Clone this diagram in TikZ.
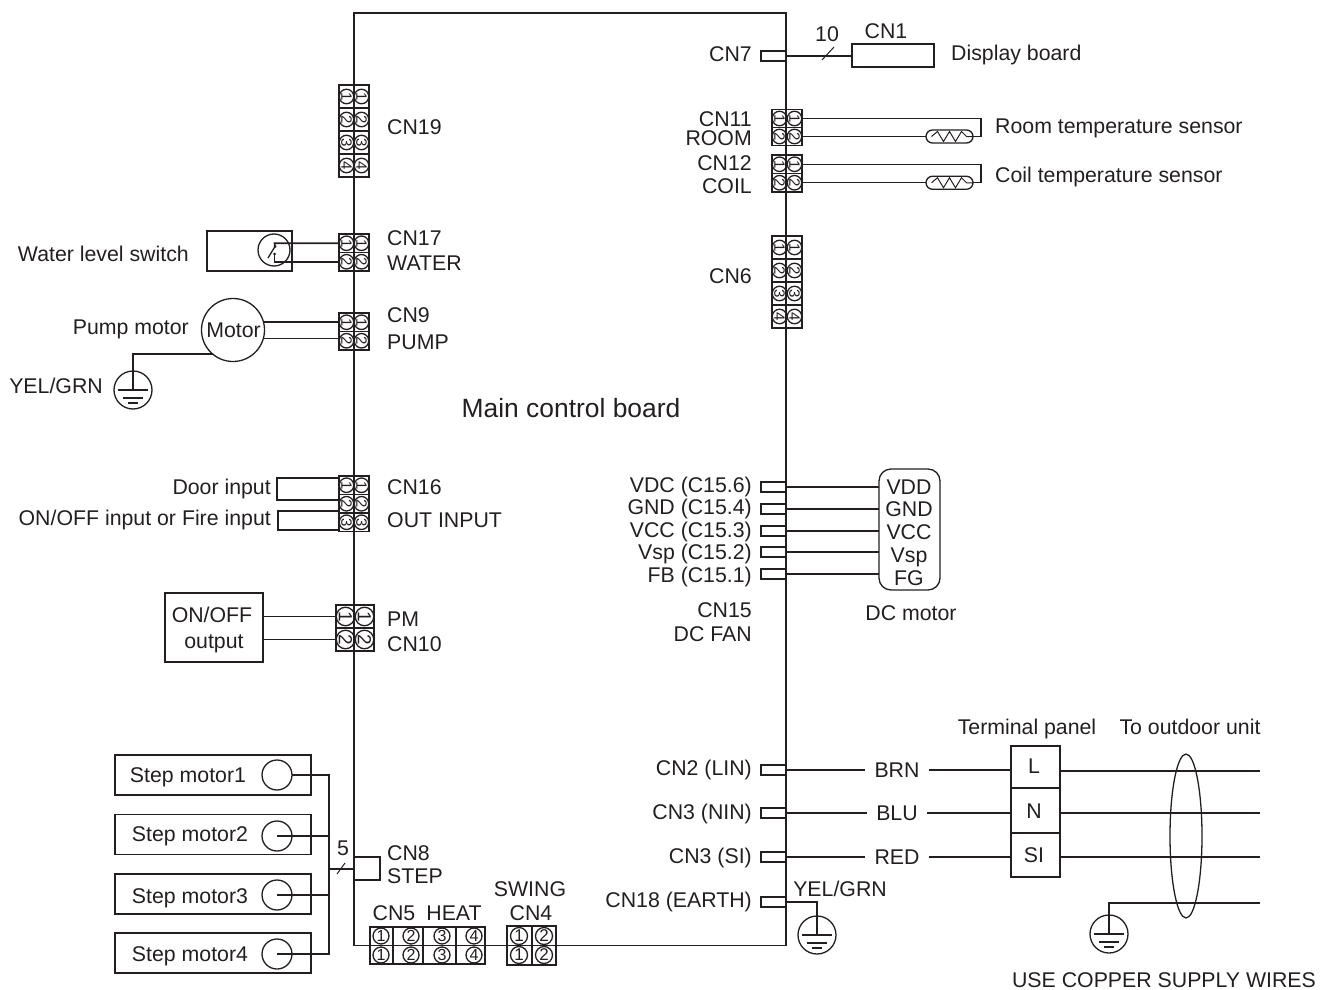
\documentclass[tikz,border=0pt]{standalone}
\usepackage{graphicx}
\usepackage{fontspec}
\setmainfont{Liberation Sans}
\usetikzlibrary{shapes.geometric}
\definecolor{inkc}{HTML}{231F20}
\tikzset{
wire/.style={draw=inkc,line width=1.3pt},
txt/.style={font=\fontsize{21.3}{26}\selectfont,text=inkc,inner sep=0pt,text height=15.5pt,text depth=0pt},
lefttxt/.style={txt,anchor=east},
righttxt/.style={txt,anchor=west},
box/.style={wire,rectangle,inner sep=0pt,outer sep=0pt},
socket/.style={box,minimum width=25pt,minimum height=10pt},
pinring/.style={wire,circle,inner sep=0pt,outer sep=0pt,text=inkc},
gndring/.style={wire,circle,inner sep=0pt,outer sep=0pt,minimum size=38pt},
capsule/.style={box,rounded corners=6.5pt,minimum width=47pt,minimum height=13pt}
}
\newcommand{\pinblock}[6]{%
\pgfmathsetmacro{\blockh}{#5*#6}
\pgfmathsetmacro{\blockm}{#3+\blockh/2}
\pgfmathsetmacro{\ringd}{#4-.5}
\pgfmathsetmacro{\digitsz}{#4}
\node[box,minimum width=2*#4 pt,minimum height=\blockh pt] (#1) at (#2,\blockm) {};
\foreach \i in {1,...,#6}{
\pgfmathsetmacro{\rowy}{#3+(\i-.5)*#5}
\pgfmathsetmacro{\rowt}{#3+(\i-1)*#5}
\node[pinring,minimum size=\ringd pt] (#1l\i) at ({#2-#4/2},\rowy) {\fontsize{\digitsz}{\digitsz}\selectfont\rotatebox{-90}{\i}};
\node[pinring,minimum size=\ringd pt] (#1r\i) at ({#2+#4/2},\rowy) {\fontsize{\digitsz}{\digitsz}\selectfont\rotatebox{-90}{\i}};
\ifnum\i>1 \draw[wire] ({#2-#4},\rowt) -- ({#2+#4},\rowt); \fi
}}
\newcommand{\earth}[3]{%
\node[gndring] (#1) at (#2,#3) {};
\draw[wire] ([xshift=-15pt]#1.center) -- ([xshift=15pt]#1.center);
\draw[wire] ([xshift=-10pt,yshift=-8pt]#1.center) -- ([xshift=10pt,yshift=-8pt]#1.center);
\draw[wire] ([xshift=-5pt,yshift=-13pt]#1.center) -- ([xshift=5pt,yshift=-13pt]#1.center);
}
\newcommand{\thermistor}[3]{%
\node[capsule] (#1) at (#2,#3) {};
\draw[wire,line width=1pt] ([xshift=-18pt]#1.center) -- ++(6,-5) -- ++(6,10) -- ++(6,-10) -- ++(6,10) -- ++(6,-10) -- ++(5,5) -- (#1.east);
}
\begin{document}
\begin{tikzpicture}[x=1pt,y=-1pt]
\useasboundingbox (0,0) rectangle (1320,990);
\node[box,minimum width=432pt,minimum height=932.7pt] (board) at (570,479.35) {};
\node[txt,font=\fontsize{26.4}{30}\selectfont,text height=19pt] (boardname) at (571,408) {Main control board};

\pinblock{cnxix}{354}{85}{15}{23}{4}
\pinblock{cnxvii}{354}{234}{15}{18.5}{2}
\pinblock{cnix}{354}{313}{15}{18.5}{2}
\pinblock{cnxvi}{354}{476}{15}{18.5}{3}
\pinblock{cnx}{355}{605}{19}{23}{2}
\pinblock{cnxi}{787}{109.5}{15}{18}{2}
\pinblock{cnxii}{787}{155}{15}{18.5}{2}
\pinblock{cnvi}{787}{236}{15}{23}{4}

\node[righttxt] (lblxix) at (387,127) {CN19};
\node[righttxt] (lblxvii) at (387,238) {CN17};
\node[righttxt] (lblwater) at (387,263) {WATER};
\node[righttxt] (lblix) at (387,315) {CN9};
\node[righttxt] (lblpump) at (387,342) {PUMP};
\node[righttxt] (lblxvi) at (387,487) {CN16};
\node[righttxt] (lblout) at (387,520) {OUT INPUT};
\node[righttxt] (lblpm) at (387,619) {PM};
\node[righttxt] (lblx) at (387,644) {CN10};
\node[righttxt] (lblviii) at (387,853) {CN8};
\node[righttxt] (lblstep) at (387,876) {STEP};

\node[lefttxt] (lblvii) at (752,54) {CN7};
\node[lefttxt] (lblxi) at (752,119) {CN11};
\node[lefttxt] (lblroom) at (752,138) {ROOM};
\node[lefttxt] (lblxii) at (752,163) {CN12};
\node[lefttxt] (lblcoil) at (752,186) {COIL};
\node[lefttxt] (lblvi) at (752,276) {CN6};
\node[lefttxt] (lblvdc) at (752,485) {VDC (C15.6)};
\node[lefttxt] (lblgnd) at (752,507) {GND (C15.4)};
\node[lefttxt] (lblvcc) at (752,530) {VCC (C15.3)};
\node[lefttxt] (lblvsp) at (752,552) {Vsp (C15.2)};
\node[lefttxt] (lblfb) at (752,575) {FB (C15.1)};
\node[lefttxt] (lblxv) at (752,610) {CN15};
\node[lefttxt] (lblfan) at (752,634) {DC FAN};
\node[lefttxt] (lblii) at (752,768) {CN2 (LIN)};
\node[lefttxt] (lbliii) at (752,812) {CN3 (NIN)};
\node[lefttxt] (lblsi) at (752,856) {CN3 (SI)};
\node[lefttxt] (lblxviii) at (752,900) {CN18 (EARTH)};

\node[socket] (cnvii) at (773.5,56) {};
\node[box,minimum width=82pt,minimum height=23pt] (cni) at (893,55.5) {};
\node[txt] (lbli) at (886,31) {CN1};
\node[txt] (lblten) at (827,34) {10};
\node[righttxt] (lbldisplay) at (951,53) {Display board};
\draw[wire] (cnvii.east) -- (cnvii.east -| cni.west);
\draw[wire,line width=1pt] (822,60) -- (834,47);

\thermistor{therma}{949.5}{136.5}
\thermistor{thermb}{949.5}{182.75}
\coordinate (roomc) at (981,118.5);
\coordinate (coilc) at (981,164.25);
\draw[wire] (cnxir1.east) -- (roomc) |- (therma.east);
\draw[wire] (cnxir2.east) -- (therma.west);
\draw[wire] (cnxiir1.east) -- (coilc) |- (thermb.east);
\draw[wire] (cnxiir2.east) -- (thermb.west);
\node[righttxt] (lblrt) at (995,126) {Room temperature sensor};
\node[righttxt] (lblct) at (995,175) {Coil temperature sensor};

\node[box,minimum width=85pt,minimum height=40pt] (swbox) at (249.5,251) {};
\node[pinring,minimum size=32pt] (swring) at (274,250) {};
\coordinate (swa) at (274.5,243.25);
\coordinate (swb) at (274.5,261.75);
\fill[inkc] (275,246.5) circle (1.5pt) (274.5,254) circle (1.5pt);
\draw[wire,line width=1.6pt] (cnxviil1.west) -- (swa) -- (275,246.5);
\draw[wire,line width=1.6pt] (cnxviil2.west) -- (swb) -- (274.5,254);
\draw[wire] (268,258) -- (275,246.5);
\node[lefttxt] (lblswitch) at (189,254) {Water level switch};

\node[pinring,minimum size=63pt] (motor) at (233,330) {};
\node[txt] (lblmotor) at (233.5,330) {Motor};
\node[lefttxt] (lblpmotor) at (189,327) {Pump motor};
\draw[wire] (motor.15) -- (motor.15 -| cnixl1.west);
\draw[wire] (motor.-15) -- (motor.-15 -| cnixl2.west);
\earth{gnda}{133}{390}
\node[lefttxt] (lblyg) at (103,386) {YEL/GRN};
\draw[wire] (motor.230) -| (gnda.center);

\coordinate (doora) at (277,478);
\coordinate (doorb) at (277,500);
\coordinate (firea) at (278,511);
\coordinate (fireb) at (278,530);
\draw[wire] (doora -| cnxvi.west) -- (doora) -- (doorb) -- (doorb -| cnxvi.west);
\draw[wire] (firea -| cnxvi.west) -- (firea) -- (fireb) -- (fireb -| cnxvi.west);
\node[lefttxt] (lbldoor) at (271,487) {Door input};
\node[lefttxt] (lblfire) at (271,518) {ON/OFF input or Fire input};

\node[box,minimum width=98pt,minimum height=69pt] (onoff) at (214,627.5) {};
\node[txt] (lblonoff) at (212,615) {ON/OFF};
\node[txt] (lbloutput) at (214,641) {output};
\draw[wire] (cnxl1.west) -- (cnxl1.west -| onoff.east);
\draw[wire] (cnxl2.west) -- (cnxl2.west -| onoff.east);

\node[socket] (cxvf) at (773.5,487) {};
\node[socket] (cxvd) at (773.5,509) {};
\node[socket] (cxvc) at (773.5,531) {};
\node[socket] (cxvb) at (773.5,552) {};
\node[socket] (cxva) at (773.5,574) {};
\node[box,rounded corners=12pt,minimum width=61pt,minimum height=121pt] (dcmotor) at (909.5,529.5) {};
\node[txt] (pinvdd) at (909,487) {VDD};
\node[txt] (pingnd) at (909,509) {GND};
\node[txt] (pinvcc) at (909,532) {VCC};
\node[txt] (pinvsp) at (909,555) {Vsp};
\node[txt] (pinfg) at (909,578) {FG};
\node[txt] (lbldc) at (911,613) {DC motor};
\foreach \c in {cxvf,cxvd,cxvc,cxvb,cxva}
\draw[wire] (\c.east) -- (\c.east -| dcmotor.west);

\node[socket] (cnii) at (773.5,770) {};
\node[socket] (cniii) at (773.5,813) {};
\node[socket] (cnsi) at (773.5,857) {};
\node[socket] (cnxviii) at (773.5,902) {};
\node[box,minimum width=49pt,minimum height=42pt] (tl) at (1035.5,767) {};
\node[box,minimum width=49pt,minimum height=45pt] (tn) at (1035.5,810.5) {};
\node[box,minimum width=49pt,minimum height=44pt] (ts) at (1035.5,855) {};
\node[txt] at (1034,766) (lbll) {L};
\node[txt] at (1034,811) (lbln) {N};
\node[txt] at (1034,855) (lblts) {SI};
\node[txt,inner xsep=9pt] (brn) at (897,769.5) {BRN};
\node[txt,inner xsep=9pt] (blu) at (897,812.5) {BLU};
\node[txt,inner xsep=9pt] (red) at (897,856.5) {RED};
\draw[wire] (cnii.east) -- (cnii.east -| brn.west) (brn.east |- cnii.east) -- (cnii.east -| tl.west);
\draw[wire] (cniii.east) -- (cniii.east -| blu.west) (blu.east |- cniii.east) -- (cniii.east -| tn.west);
\draw[wire] (cnsi.east) -- (cnsi.east -| red.west) (red.east |- cnsi.east) -- (cnsi.east -| ts.west);
\node[txt] (lblpanel) at (1027,727) {Terminal panel};
\node[txt] (lbloutdoor) at (1190,727) {To outdoor unit};
\coordinate (outl) at (1260,771);
\coordinate (outn) at (1260,813);
\coordinate (outs) at (1260,857);
\coordinate (oute) at (1260,903);
\draw[wire] (outl -| tl.east) -- (outl);
\draw[wire] (outn -| tn.east) -- (outn);
\draw[wire] (outs -| ts.east) -- (outs);
\node[wire,ellipse,inner sep=0pt,minimum width=32pt,minimum height=164pt] (bundle) at (1186,836) {};
\earth{gndc}{1109}{934}
\draw[wire] (oute) -| (gndc.center);
\node[txt] (lblcopper) at (1164,980) {USE COPPER SUPPLY WIRES};

\earth{gndb}{817}{935}
\node[txt] (lblygb) at (840,889) {YEL/GRN};
\draw[wire] (cnxviii.east) -| (gndb.center);

\foreach \n/\y/\t/\tx in {1/775/775/188,2/834.5/834/190,3/894/896/190,4/953/954/190}{
\node[box,minimum width=196pt,minimum height=40pt] (stepbox\n) at (213,\y) {};
\node[txt] (steplbl\n) at (\tx,\t) {Step motor\n};
}
\node[pinring,minimum size=30pt] (stepring1) at (277,775) {};
\node[pinring,minimum size=30pt] (stepring2) at (277,836) {};
\node[pinring,minimum size=30pt] (stepring3) at (277,895) {};
\node[pinring,minimum size=30pt] (stepring4) at (277,954) {};
\coordinate (bustop) at (329,775);
\coordinate (busbot) at (329,954);
\coordinate (bustap) at (329,869);
\draw[wire] (stepring1.east) -- (bustop) -- (busbot) -- (stepring4.center);
\draw[wire] (stepring2.center) -- (stepring2 -| bustop);
\draw[wire] (stepring3.center) -- (stepring3 -| bustop);
\draw[wire] (bustap) -- (bustap -| board.west);
\draw[wire,line width=1pt] (337,874) -- (345,863);
\node[txt] (lblfive) at (343,848) {5};
\coordinate (stepa) at (380,857);
\coordinate (stepb) at (380,880);
\draw[wire] (stepa -| board.west) -- (stepa) -- (stepb) -- (stepb -| board.west);

\node[box,minimum width=115pt,minimum height=37pt] (cnv) at (427.5,945.5) {};
\node[box,minimum width=49pt,minimum height=39pt] (cniv) at (531.5,945.5) {};
\draw[wire] (393,927) -- (393,964) (423,927) -- (423,964) (456,927) -- (456,964) (532,926) -- (532,965);
\foreach \x/\d in {381/1,411/2,442/3,474/4}{
\node[pinring,minimum size=16pt,font=\fontsize{16}{16}\selectfont] (heata\d) at (\x,936) {\d};
\node[pinring,minimum size=16pt,font=\fontsize{16}{16}\selectfont] (heatb\d) at (\x,955) {\d};
}
\foreach \x/\d in {519/1,544/2}{
\node[pinring,minimum size=17pt,font=\fontsize{17}{17}\selectfont] (swinga\d) at (\x,936) {\d};
\node[pinring,minimum size=17pt,font=\fontsize{17}{17}\selectfont] (swingb\d) at (\x,955) {\d};
}
\node[txt] (lblv) at (394,913) {CN5};
\node[txt] (lblheat) at (454,913) {HEAT};
\node[txt] (lblswing) at (530,889) {SWING};
\node[txt] (lbliv) at (531,913) {CN4};
\end{tikzpicture}
\end{document}
